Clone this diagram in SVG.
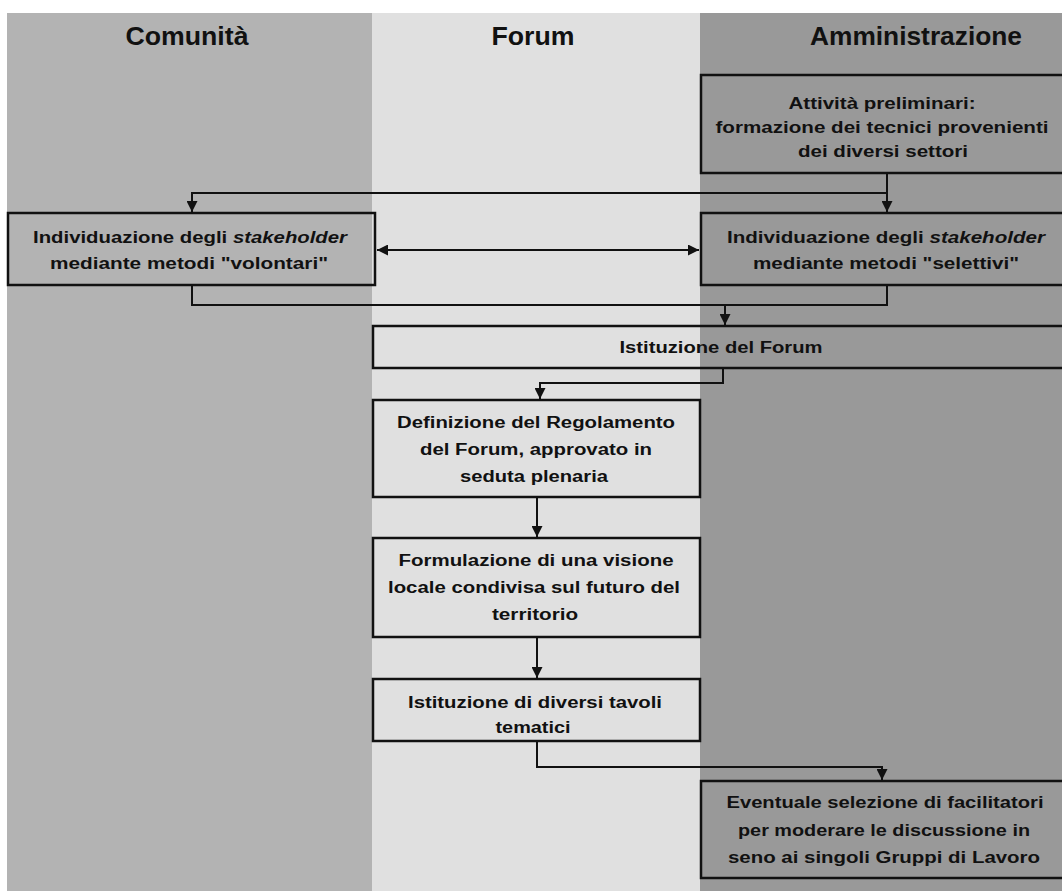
<svg xmlns="http://www.w3.org/2000/svg" width="1062" height="891" viewBox="0 0 1062 891">
<defs>
<style>
.lane{stroke:none}
.box{fill:none;stroke:#111;stroke-width:2.5}
.hdr{font-family:"Liberation Sans",Arial,sans-serif;font-weight:bold;font-size:25px;fill:#111;text-anchor:middle}
.t{font-family:"Liberation Sans",Arial,sans-serif;font-weight:bold;font-size:16px;fill:#111;text-anchor:middle}
.c{fill:none;stroke:#111;stroke-width:2}
</style>
<marker id="ah" viewBox="0 0 10 10" refX="10" refY="5" markerUnits="userSpaceOnUse" markerWidth="12" markerHeight="11" orient="auto-start-reverse">
<path d="M0,0 L10,5 L0,10 z" fill="#111"/>
</marker>
</defs>
<rect width="1062" height="891" fill="#ffffff"/>
<g id="lanes">
<rect class="lane" x="7" y="13" width="365" height="878" fill="#b3b3b3"/>
<rect class="lane" x="372" y="13" width="328" height="878" fill="#e0e0e0"/>
<rect class="lane" x="700" y="13" width="362" height="878" fill="#999999"/>
<text class="hdr" x="187" y="45" textLength="123" lengthAdjust="spacingAndGlyphs">Comunità</text>
<text class="hdr" x="533" y="45" textLength="83" lengthAdjust="spacingAndGlyphs">Forum</text>
<text class="hdr" x="916" y="45" textLength="212" lengthAdjust="spacingAndGlyphs">Amministrazione</text>
</g>
<g id="connectors">
<path class="c" d="M887,173 V212" marker-end="url(#ah)"/>
<path class="c" d="M887,193 H192 V212" marker-end="url(#ah)"/>
<path class="c" d="M377,250 H699" marker-start="url(#ah)" marker-end="url(#ah)"/>
<path class="c" d="M192,285 V305 H725 V325" marker-end="url(#ah)"/>
<path class="c" d="M887,285 V305 H725"/>
<path class="c" d="M723,368 V383 H540 V399" marker-end="url(#ah)"/>
<path class="c" d="M537,497 V537" marker-end="url(#ah)"/>
<path class="c" d="M537,637 V678" marker-end="url(#ah)"/>
<path class="c" d="M537,741 V767 H882 V780" marker-end="url(#ah)"/>
</g>
<g id="n-attivita">
<rect class="box" x="701" y="75" width="370" height="98"/>
<text class="t" x="882" y="109" textLength="187" lengthAdjust="spacingAndGlyphs">Attività preliminari:</text>
<text class="t" x="882" y="133" textLength="333" lengthAdjust="spacingAndGlyphs">formazione dei tecnici provenienti</text>
<text class="t" x="883" y="157" textLength="170" lengthAdjust="spacingAndGlyphs">dei diversi settori</text>
</g>
<g id="n-stake-vol">
<rect class="box" x="8" y="213" width="367" height="72"/>
<text class="t" x="190" y="243" textLength="314" lengthAdjust="spacingAndGlyphs">Individuazione degli <tspan font-style="italic">stakeholder</tspan></text>
<text class="t" x="189" y="269" textLength="278" lengthAdjust="spacingAndGlyphs">mediante metodi "volontari"</text>
</g>
<g id="n-stake-sel">
<rect class="box" x="701" y="213" width="370" height="72"/>
<text class="t" x="886" y="243" textLength="318" lengthAdjust="spacingAndGlyphs">Individuazione degli <tspan font-style="italic">stakeholder</tspan></text>
<text class="t" x="886" y="269" textLength="266" lengthAdjust="spacingAndGlyphs">mediante metodi "selettivi"</text>
</g>
<g id="n-istituzione-forum">
<rect class="box" x="373" y="326" width="700" height="42"/>
<text class="t" x="721" y="353" textLength="203" lengthAdjust="spacingAndGlyphs">Istituzione del Forum</text>
</g>
<g id="n-regolamento">
<rect class="box" x="373" y="400" width="327" height="97"/>
<text class="t" x="536" y="428" textLength="278" lengthAdjust="spacingAndGlyphs">Definizione del Regolamento</text>
<text class="t" x="536" y="455" textLength="232" lengthAdjust="spacingAndGlyphs">del Forum, approvato in</text>
<text class="t" x="534" y="482" textLength="148" lengthAdjust="spacingAndGlyphs">seduta plenaria</text>
</g>
<g id="n-visione">
<rect class="box" x="373" y="538" width="327" height="99"/>
<text class="t" x="536" y="566" textLength="275" lengthAdjust="spacingAndGlyphs">Formulazione di una visione</text>
<text class="t" x="534" y="593" textLength="292" lengthAdjust="spacingAndGlyphs">locale condivisa sul futuro del</text>
<text class="t" x="535" y="620" textLength="86" lengthAdjust="spacingAndGlyphs">territorio</text>
</g>
<g id="n-tavoli">
<rect class="box" x="373" y="679" width="327" height="62"/>
<text class="t" x="535" y="708" textLength="254" lengthAdjust="spacingAndGlyphs">Istituzione di diversi tavoli</text>
<text class="t" x="533" y="733" textLength="75" lengthAdjust="spacingAndGlyphs">tematici</text>
</g>
<g id="n-facilitatori">
<rect class="box" x="701" y="781" width="370" height="97"/>
<text class="t" x="885" y="808" textLength="317" lengthAdjust="spacingAndGlyphs">Eventuale selezione di facilitatori</text>
<text class="t" x="884" y="836" textLength="292" lengthAdjust="spacingAndGlyphs">per moderare le discussione in</text>
<text class="t" x="884" y="863" textLength="312" lengthAdjust="spacingAndGlyphs">seno ai singoli Gruppi di Lavoro</text>
</g>
</svg>
